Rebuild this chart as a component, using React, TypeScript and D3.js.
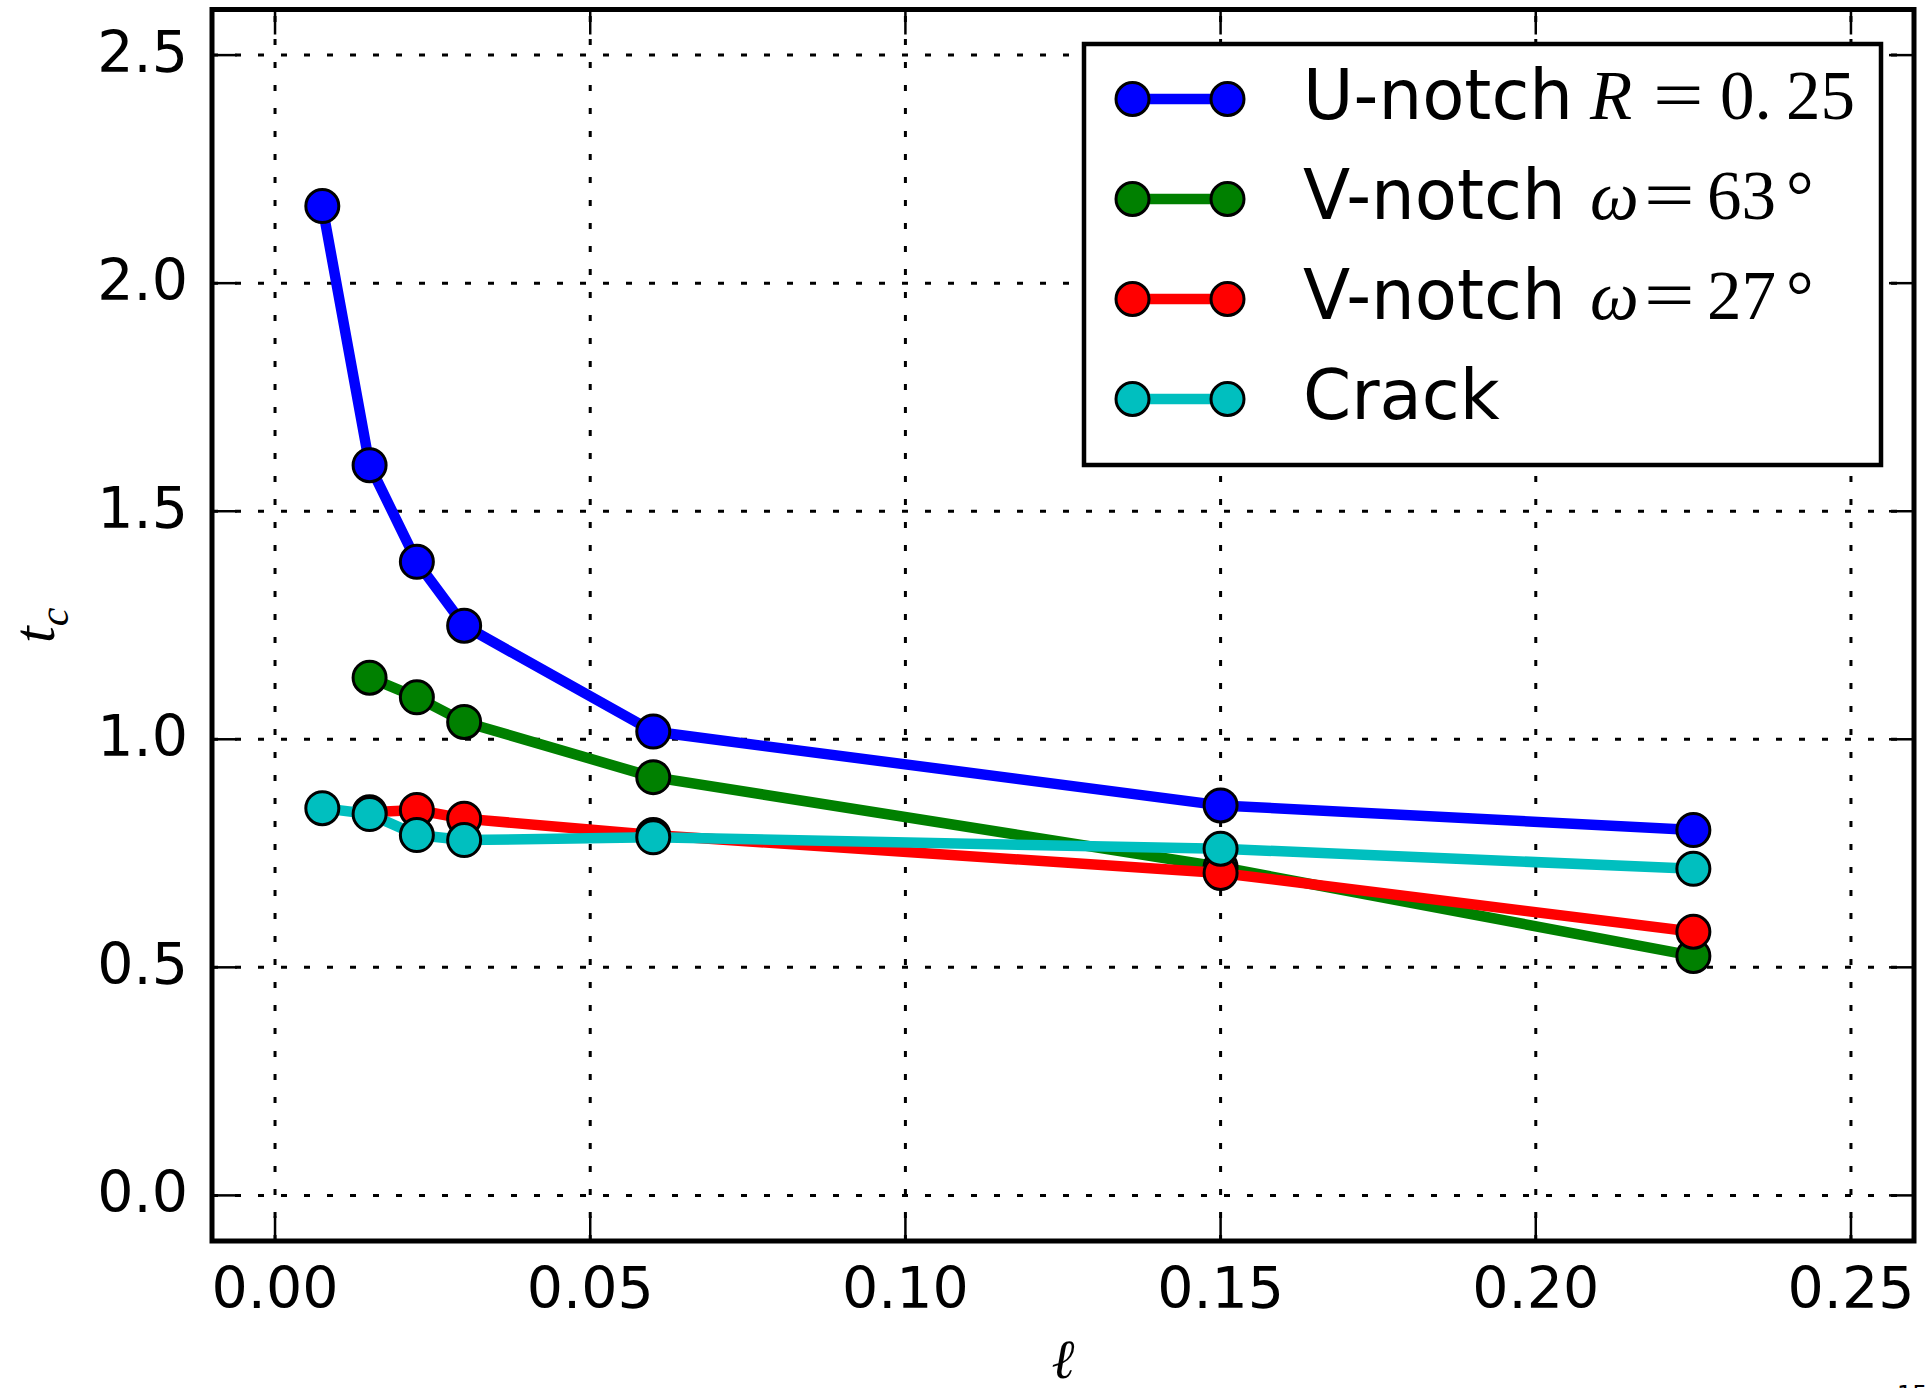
import React from "react";
import * as d3 from "d3";

// ell values (x) shared by the runs
const ellAll = [0.0075, 0.015, 0.0225, 0.03, 0.06, 0.15, 0.225];
const ellFrom015 = [0.015, 0.0225, 0.03, 0.06, 0.15, 0.225];

// critical load t_c per geometry
const uNotch = [2.169, 1.601, 1.389, 1.249, 1.017, 0.855, 0.801];
const vNotch63 = [1.135, 1.092, 1.038, 0.917, 0.72, 0.525];
const vNotch27 = [0.84, 0.845, 0.826, 0.79, 0.707, 0.578];
const crack = [0.849, 0.836, 0.79, 0.779, 0.785, 0.76, 0.716];

const xTicks = [0.0, 0.05, 0.1, 0.15, 0.2, 0.25];
const yTicks = [0.0, 0.5, 1.0, 1.5, 2.0, 2.5];

const W = 1930;
const H = 1388;
const plot = { left: 212, right: 1914, top: 9.5, bottom: 1241 };

const series = [
  { name: "U-notch", math: ["R", "0. ", "25", ""], xs: ellAll, ys: uNotch, color: "#0000ff" },
  { name: "V-notch", math: ["\u03c9", "63", "", "°"], xs: ellFrom015, ys: vNotch63, color: "#008000" },
  { name: "V-notch", math: ["\u03c9", "27", "", "°"], xs: ellFrom015, ys: vNotch27, color: "#ff0000" },
  { name: "Crack", math: null, xs: ellAll, ys: crack, color: "#00bfbf" },
];

const SANS = "'DejaVu Sans', sans-serif";
const SERIF = "'Liberation Serif', 'DejaVu Serif', serif";

const App: React.FC = () => {
  const x = d3.scaleLinear().domain([-0.01, 0.26]).range([plot.left, plot.right]);
  const y = d3.scaleLinear().domain([-0.1, 2.6]).range([plot.bottom, plot.top]);

  const line = d3
    .line<[number, number]>()
    .x((d) => x(d[0]))
    .y((d) => y(d[1]));

  const tickLen = 25;
  const legRow0 = 99;
  const legStep = 100;

  return (
    <svg
      width={W}
      height={H}
      style={{ position: "absolute", left: 0, top: 0, background: "#fff" }}
    >
      {/* grid */}
      {xTicks.map((t) => (
        <line
          key={"gx" + t}
          x1={x(t)}
          x2={x(t)}
          y1={plot.bottom}
          y2={plot.top}
          stroke="#000"
          strokeWidth={3}
          strokeDasharray="6,17"
        />
      ))}
      {yTicks.map((t) => (
        <line
          key={"gy" + t}
          x1={plot.left}
          x2={plot.right}
          y1={y(t)}
          y2={y(t)}
          stroke="#000"
          strokeWidth={3}
          strokeDasharray="6,17"
        />
      ))}

      {/* ticks, inward on all sides */}
      {xTicks.map((t) => (
        <g key={"tx" + t} stroke="#000" strokeWidth={2.5}>
          <line x1={x(t)} x2={x(t)} y1={plot.bottom} y2={plot.bottom - tickLen} />
          <line x1={x(t)} x2={x(t)} y1={plot.top} y2={plot.top + tickLen} />
        </g>
      ))}
      {yTicks.map((t) => (
        <g key={"ty" + t} stroke="#000" strokeWidth={2.5}>
          <line x1={plot.left} x2={plot.left + tickLen} y1={y(t)} y2={y(t)} />
          <line x1={plot.right} x2={plot.right - tickLen} y1={y(t)} y2={y(t)} />
        </g>
      ))}

      {/* tick labels */}
      {xTicks.map((t) => (
        <text
          key={"lx" + t}
          x={x(t)}
          y={1308}
          textAnchor="middle"
          fontFamily={SANS}
          fontSize={57}
          fill="#000"
        >
          {t.toFixed(2)}
        </text>
      ))}
      {yTicks.map((t) => (
        <text
          key={"ly" + t}
          x={188}
          y={y(t) + 17}
          textAnchor="end"
          fontFamily={SANS}
          fontSize={57}
          fill="#000"
        >
          {t.toFixed(1)}
        </text>
      ))}

      {/* data: lines with markers, drawn per series */}
      {series.map((s, i) => {
        const pts = s.xs.map((v, j) => [v, s.ys[j]] as [number, number]);
        return (
          <g key={"s" + i}>
            <path d={line(pts) || ""} fill="none" stroke={s.color} strokeWidth={10.5} strokeLinejoin="round" />
            {pts.map((p, j) => (
              <circle
                key={j}
                cx={x(p[0])}
                cy={y(p[1])}
                r={16.5}
                fill={s.color}
                stroke="#000"
                strokeWidth={3}
              />
            ))}
          </g>
        );
      })}

      {/* frame */}
      <rect
        x={plot.left}
        y={plot.top}
        width={plot.right - plot.left}
        height={plot.bottom - plot.top}
        fill="none"
        stroke="#000"
        strokeWidth={5}
      />

      {/* axis labels */}
      <text
        x={(plot.left + plot.right) / 2}
        y={1378}
        textAnchor="middle"
        fontFamily={SERIF}
        fontStyle="italic"
        fontSize={55}
      >
        ℓ
      </text>
      <text
        transform={`translate(54, ${(plot.top + plot.bottom) / 2}) rotate(-90)`}
        textAnchor="middle"
        fontFamily={SERIF}
        fontStyle="italic"
        fontSize={60}
      >
        t
        <tspan fontSize={42} dy={14}>
          c
        </tspan>
      </text>

      {/* legend */}
      <rect x={1084} y={44} width={797} height={421} fill="#fff" stroke="#000" strokeWidth={4.5} />
      {series.map((s, i) => {
        const cy = legRow0 + i * legStep;
        const base = cy + 20;
        const eqX = i === 0 ? 1653 : 1644;
        return (
          <g key={"lg" + i}>
            <line x1={1132.5} x2={1227.5} y1={cy} y2={cy} stroke={s.color} strokeWidth={10.5} />
            <circle cx={1132.5} cy={cy} r={16.5} fill={s.color} stroke="#000" strokeWidth={3} />
            <circle cx={1227.5} cy={cy} r={16.5} fill={s.color} stroke="#000" strokeWidth={3} />
            <text x={1303} y={base} fontFamily={SANS} fontSize={69} fill="#000">
              {s.name}
            </text>
            {s.math && (
              <>
                <text y={base} fontFamily={SERIF} fontSize={69} fill="#000">
                  <tspan x={1590} fontStyle="italic">
                    {s.math[0]}
                  </tspan>
                  <tspan x={i === 0 ? 1720 : 1707}>{s.math[1]}</tspan>
                  {s.math[2] && <tspan x={1786}>{s.math[2]}</tspan>}
                  {s.math[3] && <tspan x={1786}>{s.math[3]}</tspan>}
                </text>
                <text
                  transform={`translate(${eqX}, ${base}) scale(1.3, 1)`}
                  fontFamily={SERIF}
                  fontSize={69}
                  fill="#000"
                >
                  =
                </text>
              </>
            )}
          </g>
        );
      })}

      {/* page number, cut at the bottom edge */}
      <text x={1897} y={1403} fontFamily={SANS} fontSize={24} fill="#000">
        15
      </text>
    </svg>
  );
};

export default App;
